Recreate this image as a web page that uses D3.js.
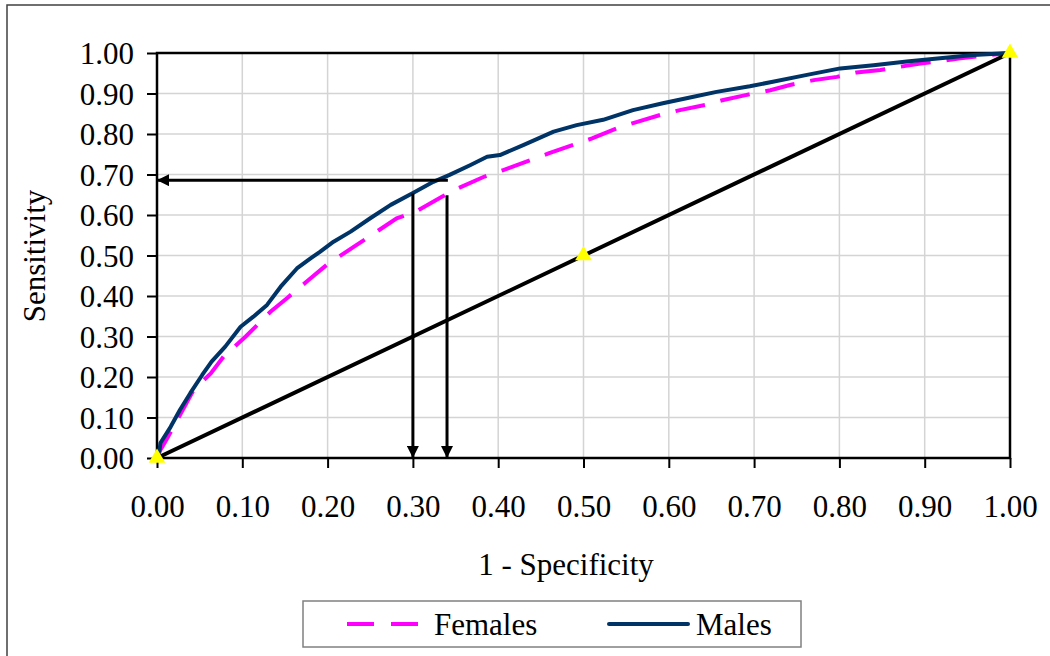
<!DOCTYPE html>
<html><head><meta charset="utf-8">
<script src="https://cdn.jsdelivr.net/npm/d3@7"></script>
<style>body{margin:0;background:#fff;}svg{display:block;}</style>
</head><body>
<script>
// ---- data ----
const ticks = [0,0.1,0.2,0.3,0.4,0.5,0.6,0.7,0.8,0.9,1.0];
const malesFPR  = [0,0.003,0.004,0.016,0.027,0.039,0.053,0.064,0.080,0.098,0.113,0.129,0.145,0.164,0.180,0.191,0.207,0.227,0.250,0.274,0.299,0.324,0.343,0.367,0.387,0.402,0.430,0.465,0.492,0.523,0.558,0.593,0.629,0.656,0.695,0.722,0.762,0.801,0.840,0.879,0.918,0.957,1.0];
const malesTPR  = [0,0.020,0.037,0.077,0.119,0.160,0.205,0.238,0.275,0.324,0.349,0.378,0.423,0.468,0.493,0.509,0.534,0.559,0.592,0.625,0.653,0.682,0.699,0.723,0.744,0.748,0.773,0.806,0.822,0.835,0.859,0.876,0.892,0.904,0.918,0.929,0.946,0.962,0.970,0.979,0.987,0.995,1.0];
const femalesFPR = [0,0.004,0.012,0.043,0.063,0.078,0.104,0.133,0.152,0.178,0.199,0.231,0.252,0.281,0.303,0.334,0.353,0.384,0.406,0.433,0.459,0.488,0.510,0.539,0.563,0.590,0.613,0.643,0.664,0.690,0.719,0.742,0.770,0.797,0.820,0.848,0.871,0.895,0.918,0.942,0.970,1.0];
const femalesTPR = [0,0.020,0.049,0.168,0.209,0.250,0.300,0.361,0.394,0.440,0.477,0.522,0.551,0.592,0.608,0.645,0.666,0.695,0.711,0.732,0.752,0.773,0.789,0.814,0.830,0.847,0.859,0.872,0.884,0.896,0.908,0.921,0.933,0.941,0.952,0.958,0.966,0.974,0.980,0.987,0.994,1.0];
const diagX = [0,0.5,1];
const diagY = [0,0.5,1];
// arrows: [x1,y1,x2,y2] in data units (head at x2,y2)
const arrows = [[0.341,0.686,0,0.686],[0.30,0.653,0.30,0],[0.34,0.649,0.34,0]];
const seriesNames = ["Females","Males"];

// ---- chart ----
const W=1050,H=656;
const svg=d3.select("body").append("svg").attr("width",W).attr("height",H);
const x=d3.scaleLinear().domain([0,1]).range([157,1010]);
const y=d3.scaleLinear().domain([0,1]).range([458,53]);
const font="'Liberation Serif','Times New Roman',serif";
const fs=31;

svg.append("rect").attr("x",7).attr("y",5).attr("width",1100).attr("height",700)
  .attr("fill","none").attr("stroke","#404040").attr("stroke-width",1.5);

// grid
svg.append("g").selectAll("line").data(ticks.slice(1,-1)).join("line")
  .attr("x1",d=>x(d)).attr("x2",d=>x(d)).attr("y1",y(0)).attr("y2",y(1))
  .attr("stroke","#d4d4d4").attr("stroke-width",1.5);
svg.append("g").selectAll("line").data(ticks.slice(1,-1)).join("line")
  .attr("y1",d=>y(d)).attr("y2",d=>y(d)).attr("x1",x(0)).attr("x2",x(1))
  .attr("stroke","#d4d4d4").attr("stroke-width",1.5);

// axes
const fmt=d3.format(".2f");
const xa=svg.append("g").attr("transform",`translate(0,${y(0)})`)
  .call(d3.axisBottom(x).tickValues(ticks).tickFormat(fmt).tickSize(10).tickPadding(27));
const ya=svg.append("g").attr("transform",`translate(${x(0)},0)`)
  .call(d3.axisLeft(y).tickValues(ticks).tickFormat(fmt).tickSize(10).tickPadding(13));
[xa,ya].forEach(a=>{
  a.select(".domain").remove();
  a.selectAll(".tick line").attr("stroke","#000").attr("stroke-width",2);
  a.selectAll(".tick text").attr("font-family",font).attr("font-size",fs).attr("fill","#000");
});
ya.selectAll(".tick text").attr("dy","0.34em");

// plot border
svg.append("rect").attr("x",x(0)).attr("y",y(1)).attr("width",x(1)-x(0)).attr("height",y(0)-y(1))
  .attr("fill","none").attr("stroke","#000").attr("stroke-width",2.5);

const line=d3.line().x(d=>x(d[0])).y(d=>y(d[1]));
const fem=femalesFPR.map((v,i)=>[v,femalesTPR[i]]);
const mal=malesFPR.map((v,i)=>[v,malesTPR[i]]);
svg.append("path").attr("d",line(fem)).attr("fill","none").attr("stroke","#ff00ff")
  .attr("stroke-width",4).attr("stroke-dasharray","30,16");
svg.append("path").attr("d",line(mal)).attr("fill","none").attr("stroke","#003366")
  .attr("stroke-width",4).attr("stroke-linejoin","round");
const diag=diagX.map((v,i)=>[v,diagY[i]]);
svg.append("path").attr("d",line(diag)).attr("fill","none").attr("stroke","#000").attr("stroke-width",4);
svg.append("g").selectAll("path").data(diag).join("path")
  .attr("d",d3.symbol().type(d3.symbolTriangle).size(120))
  .attr("transform",d=>`translate(${x(d[0])},${y(d[1])})`).attr("fill","#ffff00");

// arrows
svg.append("defs").append("marker").attr("id","ah").attr("viewBox","0 0 10 10")
  .attr("refX",10).attr("refY",5).attr("markerWidth",13).attr("markerHeight",12)
  .attr("markerUnits","userSpaceOnUse").attr("orient","auto")
  .append("path").attr("d","M0,0L10,5L0,10z").attr("fill","#000");
svg.append("g").selectAll("line").data(arrows).join("line")
  .attr("x1",d=>x(d[0])).attr("y1",d=>y(d[1])).attr("x2",d=>x(d[2])).attr("y2",d=>y(d[3]))
  .attr("stroke","#000").attr("stroke-width",3).attr("marker-end","url(#ah)");

// axis titles
svg.append("text").attr("x",566).attr("y",575).attr("text-anchor","middle")
  .attr("font-family",font).attr("font-size",fs).text("1 - Specificity");
svg.append("text").attr("transform","translate(45,256) rotate(-90)").attr("text-anchor","middle")
  .attr("font-family",font).attr("font-size",fs).text("Sensitivity");

// legend
const lg=svg.append("g");
lg.append("rect").attr("x",303).attr("y",601).attr("width",498).attr("height",46)
  .attr("fill","#fff").attr("stroke","#808080").attr("stroke-width",1.5);
lg.append("line").attr("x1",347).attr("x2",418).attr("y1",624).attr("y2",624)
  .attr("stroke","#ff00ff").attr("stroke-width",4).attr("stroke-dasharray","27,17");
lg.append("line").attr("x1",609).attr("x2",688).attr("y1",624).attr("y2",624)
  .attr("stroke","#003366").attr("stroke-width",4).attr("stroke-linecap","round");
lg.selectAll("text").data(seriesNames).join("text")
  .attr("x",(d,i)=>i?696:434).attr("y",635).attr("font-family",font).attr("font-size",fs).text(d=>d);
</script>
</body></html>
